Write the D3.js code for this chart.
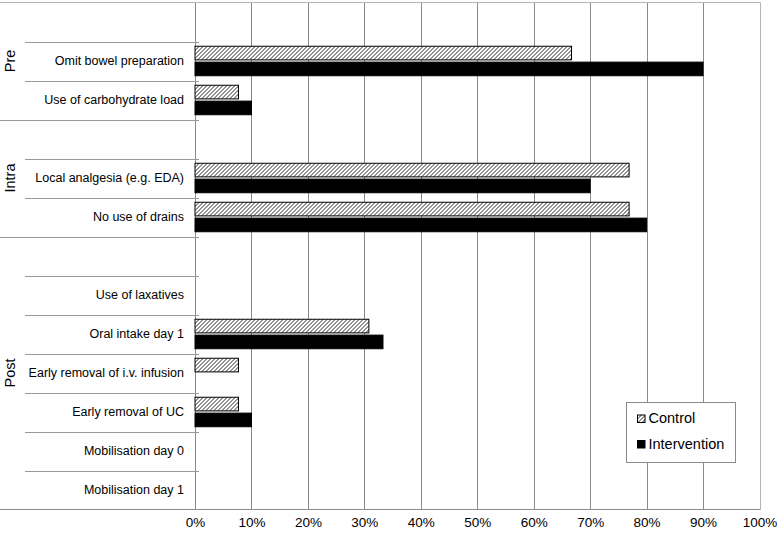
<!DOCTYPE html>
<html>
<head>
<meta charset="utf-8">
<script src="https://cdn.jsdelivr.net/npm/d3@7"></script>
<style>
  body { margin: 0; background: #fff; }
  svg { display: block; font-family: "Liberation Sans", Arial, sans-serif; }
</style>
</head>
<body>
<div class="chart"></div>
<script>
// data
const groups = ['Pre', 'Intra', 'Post']
const groupSizes = [3, 3, 7]
const categories = ['', 'Omit bowel preparation', 'Use of carbohydrate load',
                    '', 'Local analgesia (e.g. EDA)', 'No use of drains',
                    '', 'Use of laxatives', 'Oral intake day 1', 'Early removal of i.v. infusion',
                    'Early removal of UC', 'Mobilisation day 0', 'Mobilisation day 1']
const control      = [null, 66.7, 7.7, null, 76.9, 76.9, null, 0, 30.8, 7.7, 7.7, 0, 0]
const intervention = [null, 90, 10, null, 70, 80, null, 0, 33.3, 0, 10, 0, 0]
const series = ['Control', 'Intervention']
const xTicks = [0, 10, 20, 30, 40, 50, 60, 70, 80, 90, 100]

function drawChart() {
    d3.select('.chart svg').remove()

    const width = 777, height = 533
    const left = 195, right = 759.5, top = 2.5, bottom = 509.5

    const svg = d3.select('.chart').append('svg')
                  .attr('width', width)
                  .attr('height', height)

    // hatch pattern for Control
    const defs = svg.append('defs')
    const pat = defs.append('pattern')
                    .attr('id', 'hatch')
                    .attr('patternUnits', 'userSpaceOnUse')
                    .attr('width', 4)
                    .attr('height', 4)
    pat.append('rect').attr('width', 4).attr('height', 4).attr('fill', '#fff')
    pat.append('path')
       .attr('d', 'M-1,1 l2,-2 M0,4 l4,-4 M3,5 l2,-2')
       .attr('stroke', '#000')
       .attr('stroke-width', 0.85)

    const xScale = d3.scaleLinear().domain([0, 100]).range([left, right])

    const yScale = d3.scaleBand()
                     .domain(d3.range(categories.length))
                     .range([top, bottom])
                     .paddingInner(0)
                     .paddingOuter(0)

    const ySub = d3.scaleBand()
                   .domain(series)
                   .range([0, yScale.bandwidth()])
                   .paddingInner(0.14)
                   .paddingOuter(0.3)

    // gridlines
    svg.append('g')
       .selectAll('line')
       .data(xTicks)
       .join('line')
       .attr('x1', d => Math.round(xScale(d)) + 0.5)
       .attr('x2', d => Math.round(xScale(d)) + 0.5)
       .attr('y1', top)
       .attr('y2', bottom)
       .attr('stroke', d => d === 100 ? '#b4b4b4' : '#8a8a8a')
       .attr('stroke-width', 1)

    // top + bottom border
    svg.append('line')
       .attr('x1', 0).attr('x2', Math.round(right) + 0.5)
       .attr('y1', top).attr('y2', top)
       .attr('stroke', '#b4b4b4')
    svg.append('line')
       .attr('x1', 0).attr('x2', Math.round(right) + 0.5)
       .attr('y1', bottom).attr('y2', bottom)
       .attr('stroke', '#8a8a8a')

    // category separators (short ones inside groups, long ones between groups)
    const groupEnds = []
    let acc = 0
    groupSizes.forEach(s => { acc += s; groupEnds.push(acc) })
    const sepIdx = d3.range(1, categories.length)
    svg.append('g')
       .selectAll('line')
       .data(sepIdx)
       .join('line')
       .attr('x1', d => groupEnds.includes(d) ? 0 : 25)
       .attr('x2', left + 4)
       .attr('y1', d => Math.round(yScale(d)) + 0.5)
       .attr('y2', d => Math.round(yScale(d)) + 0.5)
       .attr('stroke', '#999')

    // category labels
    svg.append('g')
       .selectAll('text')
       .data(categories)
       .join('text')
       .attr('x', 184)
       .attr('y', (d, i) => yScale(i) + yScale.bandwidth() / 2)
       .attr('dy', '0.35em')
       .attr('text-anchor', 'end')
       .style('font-size', '12.5px')
       .style('fill', '#000')
       .text(d => d)

    // group labels
    let start = 0
    const groupPos = groupSizes.map(s => {
        const y0 = yScale(start), y1 = yScale(start + s - 1) + yScale.bandwidth()
        start += s
        return (y0 + y1) / 2
    })
    svg.append('g')
       .selectAll('text')
       .data(groups)
       .join('text')
       .attr('transform', (d, i) => `translate(14.5,${groupPos[i]}) rotate(-90)`)
       .attr('text-anchor', 'middle')
       .style('font-size', '14.5px')
       .text(d => d)

    // bars
    const rows = categories.map((c, i) => ({ i, Control: control[i], Intervention: intervention[i] }))
    svg.append('g')
       .selectAll('g')
       .data(rows)
       .join('g')
       .attr('transform', d => `translate(0,${yScale(d.i)})`)
       .selectAll('rect')
       .data(d => series.map(key => ({ key, value: d[key] })).filter(v => v.value > 0))
       .join('rect')
       .attr('x', xScale(0))
       .attr('y', d => ySub(d.key))
       .attr('width', d => xScale(d.value) - xScale(0))
       .attr('height', ySub.bandwidth())
       .attr('fill', d => d.key === 'Control' ? 'url(#hatch)' : '#000')
       .attr('stroke', '#000')
       .attr('stroke-width', 1)

    // x axis labels
    const xAxis = d3.axisBottom(xScale)
                    .tickValues(xTicks)
                    .tickSize(0)
                    .tickPadding(0)
                    .tickFormat(d => d + '%')
    const xAxisGroup = svg.append('g')
                          .attr('transform', `translate(0,${bottom + 8})`)
                          .call(xAxis)
    xAxisGroup.select('.domain').remove()
    xAxisGroup.selectAll('text')
              .style('font-size', '13.5px')
              .style('font-family', '"Liberation Sans", Arial, sans-serif')
              .style('fill', '#000')

    // legend
    const lg = svg.append('g').attr('transform', 'translate(626.5,402.5)')
    lg.append('rect')
      .attr('width', 109)
      .attr('height', 60)
      .attr('fill', '#fff')
      .attr('stroke', '#8a8a8a')
    const items = lg.selectAll('g')
                    .data(series)
                    .join('g')
                    .attr('transform', (d, i) => `translate(11,${12.5 + i * 25.5})`)
    items.append('rect')
         .attr('width', 7.5)
         .attr('height', 7.5)
         .attr('fill', d => d === 'Control' ? 'url(#hatch)' : '#000')
         .attr('stroke', '#000')
    items.append('text')
         .attr('x', 11)
         .attr('y', 8)
         .style('font-size', '14.5px')
         .text(d => d)
}

drawChart()
</script>
</body>
</html>
